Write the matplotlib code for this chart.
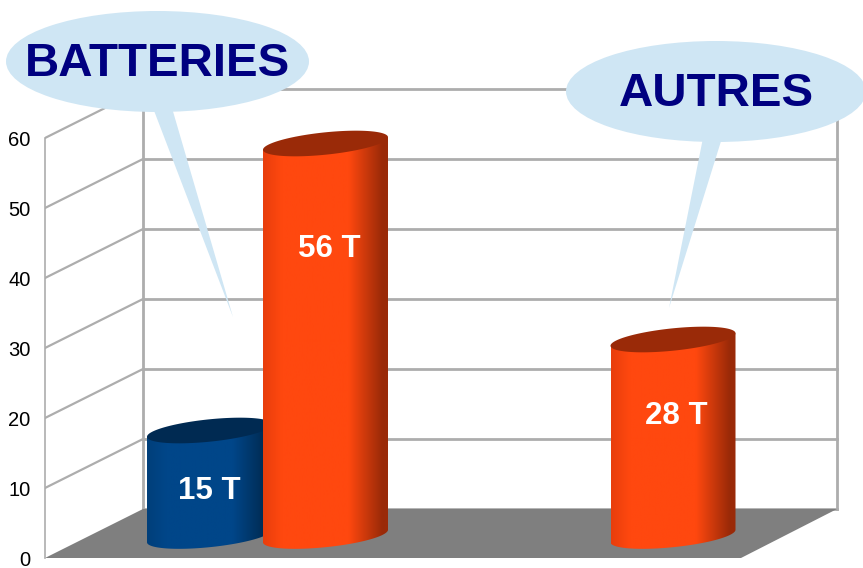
import numpy as np
import matplotlib
matplotlib.use("Agg")
import matplotlib.pyplot as plt
from matplotlib.colors import LinearSegmentedColormap
from matplotlib.patches import Ellipse, Polygon

plt.rcParams['font.family'] = ['Liberation Sans', 'DejaVu Sans']

# data
values = [15, 56, 28]
value_labels = ["15 T", "56 T", "28 T"]
label_heights = [9.6, 44.2, 20.3]
y_ticks = [0, 10, 20, 30, 40, 50, 60]

# colours
grid_col = "#adadad"
floor_col = "#7f7f7f"
bubble_col = "#cfe6f4"
text_col = "#000080"
blue_cols = ["#003f7a", "#004689", "#004689", "#002a50", "#002a50"]
orange_cols = ["#e83e0c", "#ff480f", "#ff480f", "#9a2a08", "#9a2a08"]
blue_cap = "#002a52"
orange_cap = "#9a2a08"
bar_cols = [blue_cols, orange_cols, orange_cols]
cap_cols = [blue_cap, orange_cap, orange_cap]

# layout, x is in pixels and y in value units (7 px per unit)
W, H = 863, 568
Y0 = 558
PX = 7.0
centers = [209.5, 325.5, 673]
label_x = [209, 329, 676]
half_w = 62.5
shear = 0.1
minor = 11.2 / PX
base = (Y0 - 535.5) / PX
floor_base = (Y0 - 536) / PX
depth_x, depth_y = 98, 49 / PX
x_front, x_back, x_right = 45, 143, 837


def py(pixel):
    return (Y0 - pixel) / PX


fig = plt.figure(figsize=(W / 100, H / 100), dpi=100)
ax = fig.add_axes([x_front / W, (H - Y0) / H, (W - x_front) / W, Y0 / H])

# walls
ax.fill([x_front, x_back, x_right, 741], [0, depth_y, depth_y, 0], color=floor_col, zorder=1, lw=0)
for v in y_ticks:
    if v > 0:
        ax.plot([x_front, x_back], [v, v + depth_y], color=grid_col, lw=1.6, zorder=0.5, solid_capstyle="round")
    ax.plot([x_back, x_right], [v + depth_y, v + depth_y], color=grid_col, lw=2.0, zorder=0.5)
ax.plot([x_back, x_back], [depth_y, 60 + depth_y], color=grid_col, lw=2.0, zorder=0.5)
ax.plot([x_right, x_right], [depth_y, 60 + depth_y], color=grid_col, lw=2.0, zorder=0.5)

# cylinders
t = np.linspace(0, 2 * np.pi, 200)
lower = np.linspace(np.pi, 2 * np.pi, 100)
stops = [0, 0.15, 0.68, 0.95, 1]
for i, v in enumerate(values):
    cx = centers[i]
    top = base + v
    # sheared ellipses, np.cos(pi) = -1 so the left point comes out lower
    body_x = np.concatenate([cx + half_w * np.cos(lower), [cx + half_w, cx - half_w]])
    body_y = np.concatenate([
        floor_base + shear * half_w * np.cos(lower) / PX + minor * np.sin(lower),
        [top + shear * half_w / PX, top - shear * half_w / PX],
    ])
    cmap = LinearSegmentedColormap.from_list("cyl", list(zip(stops, bar_cols[i])))
    im = ax.imshow(np.linspace(0, 1, 256).reshape(1, -1), extent=[cx - half_w, cx + half_w, floor_base - 3, top + 3],
                   cmap=cmap, aspect="auto", zorder=2 + i)
    clip = Polygon(np.column_stack([body_x, body_y]), transform=ax.transData, fc="none", ec="none")
    ax.add_patch(clip)
    im.set_clip_path(clip)
    cap_x = cx + half_w * np.cos(t)
    cap_y = top + shear * half_w * np.cos(t) / PX + minor * np.sin(t)
    ax.fill(cap_x, cap_y, color=cap_cols[i], zorder=2 + i, lw=0)
    ax.text(label_x[i], label_heights[i], value_labels[i], color="white", fontweight="bold", fontsize=22.5,
            ha="center", va="center", zorder=6)

# bubbles
ax.add_patch(Polygon([(153, py(108)), (172, py(108)), (233, py(317))], closed=True, fc=bubble_col, ec="none",
                     zorder=7, clip_on=False))
ax.add_patch(Ellipse((157.5, py(61.5)), 303, 101 / PX, fc=bubble_col, ec="none", zorder=7, clip_on=False))
ax.text(157.5, py(64), "BATTERIES", color=text_col, fontweight="bold", fontsize=34.2, ha="center", va="center",
        zorder=8, clip_on=False)

ax.add_patch(Polygon([(703, py(138)), (722, py(138)), (669, py(308))], closed=True, fc=bubble_col, ec="none",
                     zorder=7))
ax.add_patch(Ellipse((716, py(91.5)), 300, 101 / PX, fc=bubble_col, ec="none", zorder=7))
ax.text(716, py(94), "AUTRES", color=text_col, fontweight="bold", fontsize=34.2, ha="center", va="center", zorder=8)

ax.set_xlim(x_front, W)
ax.set_ylim(0, Y0 / PX)
ax.set_xticks([])
ax.set_yticks(y_ticks)
ax.tick_params(axis="y", length=0, pad=10.5, labelsize=14.5)
for s in ["top", "right", "bottom"]:
    ax.spines[s].set_visible(False)
ax.spines["left"].set_bounds(0, 60)
ax.spines["left"].set_color(grid_col)
ax.spines["left"].set_linewidth(1.2)
ax.patch.set_alpha(0)

fig.savefig("out.png", dpi=100)
